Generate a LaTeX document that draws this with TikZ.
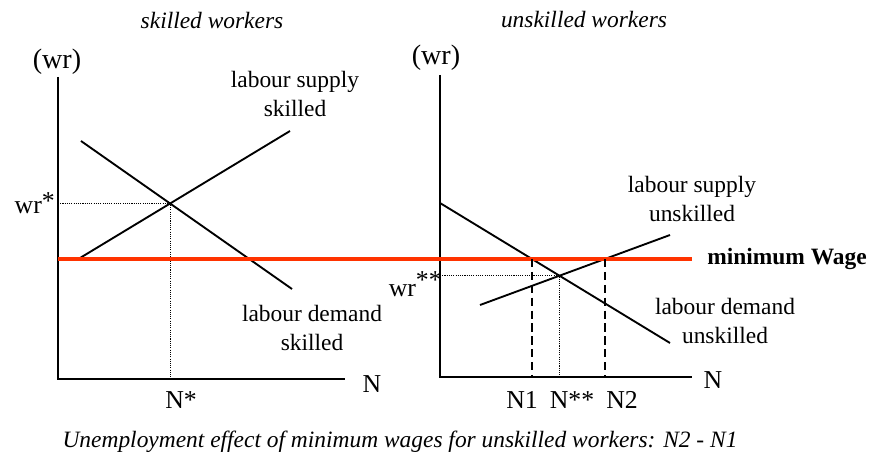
\documentclass[tikz,border=0pt]{standalone}
\usepackage{fontspec}
\setmainfont{Liberation Serif}
\usetikzlibrary{positioning,calc}
\definecolor{minwage}{RGB}{255,51,0}

\begin{document}
\begin{tikzpicture}[x=0.03cm, y=-0.03cm,
  axis/.style={line width=1.8pt},
  curve/.style={line width=1.6pt},
  guide/.style={densely dotted, line width=0.9pt},
  gap/.style={dash pattern=on 7pt off 4pt, line width=1.5pt},
  lbl/.style={font=\fontsize{20}{24}\selectfont, align=center, inner sep=0pt},
  axlbl/.style={font=\fontsize{22}{24}\selectfont, inner sep=0pt},
  ttl/.style={font=\fontsize{20}{24}\selectfont\itshape, inner sep=0pt}]
  \useasboundingbox (0,0) rectangle (870,459);

  % skilled panel
  \coordinate (O1) at (58,379);
  \coordinate (Y1) at (58,77);
  \coordinate (X1) at (345,379);
  \draw[axis] (Y1) -- (O1) -- (X1);
  \node[ttl] (t1) at (212,20) {skilled workers};
  \node[axlbl, font=\fontsize{24}{26}\selectfont] (wr1) at (57,62) {(wr)};
  \node[axlbl] (n1) at (372,384) {N};

  \coordinate (S1a) at (80,258);  \coordinate (S1b) at (290,131);
  \coordinate (D1a) at (81,141);  \coordinate (D1b) at (292,289);
  \draw[curve] (S1a) -- (S1b);
  \draw[curve] (D1a) -- (D1b);
  \coordinate (E1) at (intersection of S1a--S1b and D1a--D1b);
  \draw[guide] (E1 -| O1) -- (E1) -- (E1 |- O1);
  \node[axlbl, anchor=east] (wrs) at (55,203) {wr\raisebox{0.35ex}{*}};
  \node[axlbl] (ns) at (181,400) {N*};
  \node[lbl] (sup1) at (295,94) {labour supply\\skilled};
  \node[lbl] (dem1) at (312,328) {labour demand\\skilled};

  % unskilled panel
  \coordinate (O2) at (440,377);
  \coordinate (Y2) at (440,75);
  \coordinate (X2) at (692,377);
  \draw[axis] (Y2) -- (O2) -- (X2);
  \node[ttl] (t2) at (584,20) {unskilled workers};
  \node[axlbl, font=\fontsize{24}{26}\selectfont] (wr2) at (436,58) {(wr)};
  \node[axlbl] (n2) at (713,380) {N};

  \coordinate (S2a) at (480,305); \coordinate (S2b) at (670,235);
  \coordinate (D2a) at (440,203); \coordinate (D2b) at (670,343);
  \draw[curve] (S2a) -- (S2b);
  \draw[curve] (D2a) -- (D2b);
  \coordinate (E2) at (intersection of S2a--S2b and D2a--D2b);
  \draw[guide] (E2 -| O2) -- (E2) -- (E2 |- O2);
  \node[lbl] (sup2) at (692,199) {labour supply\\unskilled};
  \node[lbl] (dem2) at (725,321) {labour demand\\unskilled};

  % minimum wage
  \coordinate (M1) at (58,259);
  \coordinate (M2) at (692,259);
  \draw[minwage, line width=3pt] (M1) -- (M2);
  \node[font=\fontsize{20}{24}\selectfont\bfseries, inner sep=0pt] (mw) at (787,259) {minimum Wage};
  \coordinate (W1) at (intersection of M1--M2 and D2a--D2b);
  \coordinate (W2) at (intersection of M1--M2 and S2a--S2b);
  \draw[gap] (W1) -- (W1 |- O2);
  \draw[gap] (W2) -- (W2 |- O2);

  \node[axlbl, anchor=east] (wrss) at (442,284) {wr\raisebox{0.65ex}{**}};
  \foreach \x/\n/\t in {522/nA/N1, 572/nB/N**, 622/nC/N2}
    \node[axlbl] (\n) at (\x,400) {\t};

  \node[ttl] (cap) at (400,442) {Unemployment effect of minimum wages for unskilled workers: N2 - N1};
\end{tikzpicture}
\end{document}
